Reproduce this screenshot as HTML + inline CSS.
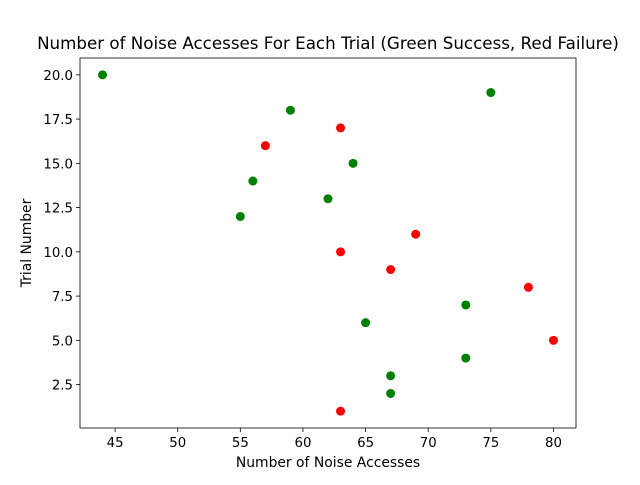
<!DOCTYPE html>
<html><head><meta charset="utf-8"><style>
body{margin:0;background:#fff;font-family:"Liberation Sans","DejaVu Sans",sans-serif;}
</style></head><body>
<svg id="chart" width="640" height="480" xmlns="http://www.w3.org/2000/svg">
<rect width="640" height="480" fill="#fff"/>
<text x="328" y="49" font-size="16.7" text-anchor="middle" font-family="DejaVu Sans, sans-serif">Number of Noise Accesses For Each Trial (Green Success, Red Failure)</text>
<g id="plot"></g>
<text x="328" y="467" font-size="13.9" text-anchor="middle" font-family="DejaVu Sans, sans-serif">Number of Noise Accesses</text>
<text transform="translate(31,243) rotate(-90)" font-size="13.9" text-anchor="middle" font-family="DejaVu Sans, sans-serif">Trial Number</text>
</svg>
<script>
const accesses = [44,75,59,64,56,62,55,73,65,73,67,67,63,57,69,63,67,78,80,63];
const trials   = [20,19,18,15,14,13,12,7,6,4,3,2,17,16,11,10,9,8,5,1];
const outcome  = ["s","s","s","s","s","s","s","s","s","s","s","s","f","f","f","f","f","f","f","f"];
const xTicks = [45,50,55,60,65,70,75,80];
const yTicks = [2.5,5.0,7.5,10.0,12.5,15.0,17.5,20.0];

const L=80,R=576,T=58,B=428;
const x0=42.2,x1=81.8,y0=0.05,y1=20.95;
const sx=v=>L+(v-x0)/(x1-x0)*(R-L);
const sy=v=>B-(v-y0)/(y1-y0)*(B-T);
const NS="http://www.w3.org/2000/svg";
const g=document.getElementById('plot');
function mk(t,a){const e=document.createElementNS(NS,t);for(const k in a)e.setAttribute(k,a[k]);g.appendChild(e);return e;}

xTicks.forEach(v=>{
  const tl=mk('line',{x1:sx(v),x2:sx(v),y1:B,y2:B+4,stroke:'#000','stroke-width':0.8});
  
  
  const t=mk('text',{x:sx(v),y:B+19,'font-size':13.3,'text-anchor':'middle','font-family':'DejaVu Sans, sans-serif'});
  t.textContent=v;
  
  
});
yTicks.forEach(v=>{
  const tl=mk('line',{x1:L-4,x2:L,y1:sy(v),y2:sy(v),stroke:'#000','stroke-width':0.8});
  
  
  const t=mk('text',{x:L-7,y:sy(v)+5,'font-size':13.3,'text-anchor':'end','font-family':'DejaVu Sans, sans-serif'});
  t.textContent=v.toFixed(1);
  
  
});
accesses.forEach((v,i)=>{
  const c=mk('circle',{cx:sx(v),cy:sy(trials[i]),r:4.5,fill:outcome[i]==='s'?'#008000':'#ff0000'});
  
  
});
const fr=mk('rect',{x:L,y:T,width:R-L,height:B-T,fill:'none',stroke:'#000','stroke-width':0.8});


</script>
</body></html>
